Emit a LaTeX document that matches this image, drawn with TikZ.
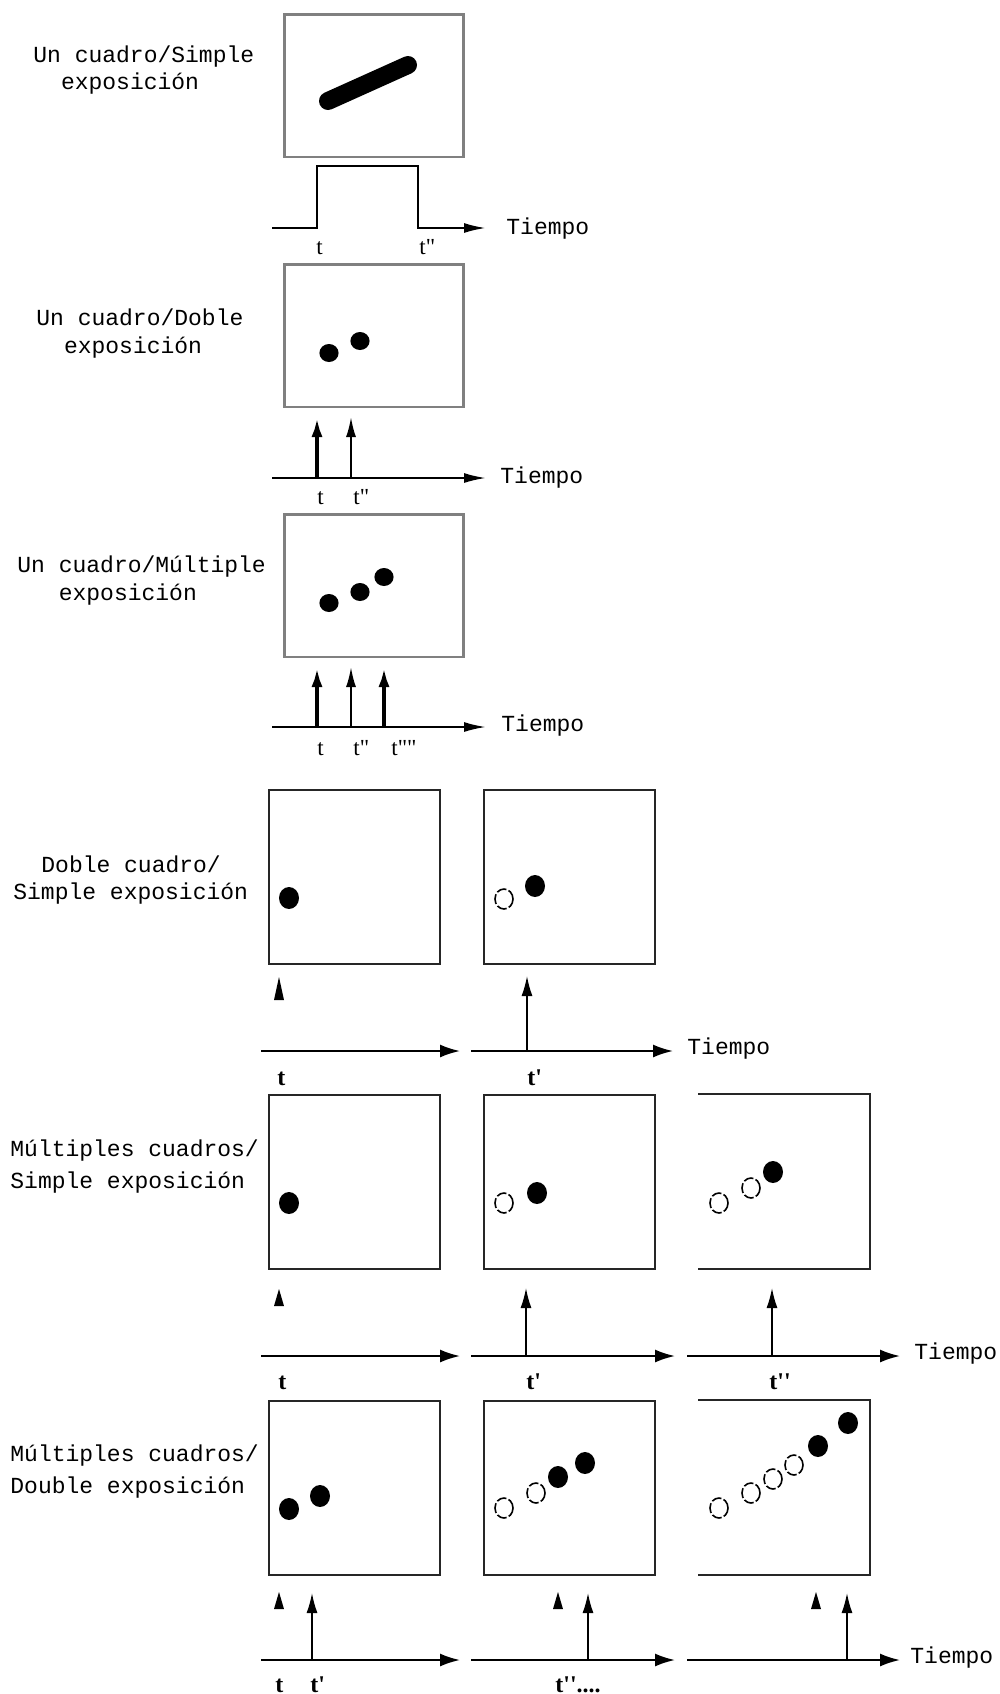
\documentclass[tikz,border=0pt]{standalone}
\usepackage{fontspec}
\setmainfont{Liberation Serif}
\newfontfamily\cour{Liberation Mono}
\usetikzlibrary{arrows.meta}
\newcommand\headat[3]{\fill[black] (#1-5,#3) -- (#1,#2) -- (#1+5,#3) -- cycle;}
\begin{document}
\begin{tikzpicture}[x=0.5pt,y=-0.5pt,
  lbl/.style={font=\cour\fontsize{11.5}{14}\selectfont, anchor=base west, inner sep=0},
  tiempo/.style={font=\cour\fontsize{11.5}{14}\selectfont, anchor=west, inner sep=0},
  tl/.style={font=\fontsize{11.5}{13}\selectfont, anchor=base west, inner sep=0},
  tb/.style={font=\bfseries\fontsize{12}{14}\selectfont, anchor=base west, inner sep=0},
  gbox/.style={draw=gray, line width=1.4pt, minimum width=89.5pt, minimum height=71.3pt, inner sep=0, anchor=north west},
  kbox/.style={draw=black!85, line width=1pt, minimum width=85.5pt, minimum height=87pt, inner sep=0, anchor=north west},
  obox/.style={minimum width=85.5pt, minimum height=87pt, inner sep=0, anchor=north west},
  oside/.style={draw=black!85, line width=1pt},
  pulse/.style={line width=1.1pt, -{Latex[length=11pt,width=5pt]}},
  harrow/.style={line width=1pt, -{Latex[length=11pt,width=5pt]}},
  hkarrow/.style={line width=1pt, -{Latex[length=10pt,width=6.5pt]}},
  vthick/.style={line width=2pt, -{Latex[length=10pt,width=5.5pt]}},
  vthin/.style={line width=1pt, -{Latex[length=10pt,width=5pt]}},
  vk/.style={line width=0.8pt, -{Latex[length=10pt,width=5.5pt]}},
  dotf/.style={fill=black},
  doth/.style={draw=black, line width=0.8pt, dash pattern=on 5pt off 1.2pt},
]
\useasboundingbox (0,0) rectangle (1000,1694);

% ---------------- Section 1 ----------------
\node[lbl] (l1a) at (33,62) {Un cuadro/Simple};
\node[lbl] (l1b) at (33,89) {\phantom{xx}exposición};
\node[gbox] (b1) at (283,13) {};
\draw[line width=9pt, line cap=round] (328,101) -- (408,65);
\coordinate (p0) at (272,228);
\coordinate (p1) at (317,228);
\coordinate (p2) at (317,166);
\coordinate (p3) at (418,166);
\coordinate (p4) at (418,228);
\coordinate (p5) at (486,228);
\draw[pulse] (p0) -- (p1) -- (p2) -- (p3) -- (p4) -- (p5);
\node[tiempo] (tm1) at (506,229) {Tiempo};
\node[tl] (t1a) at (316,254) {t};
\node[tl] (t1b) at (419,254) {t\textquotedbl};

% ---------------- Section 2 ----------------
\node[lbl] (l2a) at (36,325) {Un cuadro/Doble};
\node[lbl] (l2b) at (36,353) {\phantom{xx}exposición};
\node[gbox] (b2) at (283,263) {};
\fill[dotf] (329,353) ellipse [x radius=4.8pt, y radius=4.5pt];
\fill[dotf] (360,341) ellipse [x radius=4.8pt, y radius=4.5pt];
\coordinate (s2a) at (272,478);
\coordinate (s2b) at (486,478);
\draw[harrow] (s2a) -- (s2b);
\coordinate (a2a) at (317,478); \coordinate (a2at) at (317,417);
\coordinate (a2b) at (351,478); \coordinate (a2bt) at (351,417);
\draw[vthick] (a2a) -- (a2at);
\draw[vthin] (a2b) -- (a2bt);
\node[tiempo] (tm2) at (500,478) {Tiempo};
\node[tl] (t2a) at (317,504) {t};
\node[tl] (t2b) at (353,504) {t\textquotedbl};

% ---------------- Section 3 ----------------
\node[lbl] (l3a) at (17,572) {Un cuadro/Múltiple};
\node[lbl] (l3b) at (17,600) {\phantom{xxx}exposición};
\node[gbox] (b3) at (283,513) {};
\fill[dotf] (329,603) ellipse [x radius=4.8pt, y radius=4.5pt];
\fill[dotf] (360,592) ellipse [x radius=4.8pt, y radius=4.5pt];
\fill[dotf] (384,577) ellipse [x radius=4.8pt, y radius=4.5pt];
\coordinate (s3a) at (272,727);
\coordinate (s3b) at (486,727);
\draw[harrow] (s3a) -- (s3b);
\coordinate (a3a) at (317,727); \coordinate (a3at) at (317,667);
\coordinate (a3b) at (351,727); \coordinate (a3bt) at (351,667);
\coordinate (a3c) at (384,727); \coordinate (a3ct) at (384,667);
\draw[vthick] (a3a) -- (a3at);
\draw[vthin] (a3b) -- (a3bt);
\draw[vthick] (a3c) -- (a3ct);
\node[tiempo] (tm3) at (501,726) {Tiempo};
\node[tl] (t3a) at (317,755) {t};
\node[tl] (t3b) at (353,755) {t\textquotedbl};
\node[tl] (t3c) at (391,755) {t\textquotedbl\textquotedbl};

% ---------------- Section 4 ----------------
\node[lbl] (l4a) at (41,872) {Doble cuadro/};
\node[lbl] (l4b) at (13,899) {Simple exposición};
\node[kbox] (b41) at (268,789) {};
\node[kbox] (b42) at (483,789) {};
\fill[dotf] (289,898) ellipse [x radius=5pt, y radius=5.5pt];
\draw[doth] (504,899) ellipse [x radius=4.5pt, y radius=5pt];
\fill[dotf] (535,886) ellipse [x radius=5pt, y radius=5.5pt];
\headat{279}{977}{1000}
\coordinate (a4b) at (527,1051); \coordinate (a4bt) at (527,976);
\draw[vk] (a4b) -- (a4bt);
\coordinate (s41a) at (261,1051); \coordinate (s41b) at (460,1051);
\coordinate (s42a) at (471,1051); \coordinate (s42b) at (673,1051);
\draw[hkarrow] (s41a) -- (s41b);
\draw[hkarrow] (s42a) -- (s42b);
\node[tiempo] (tm4) at (687,1049) {Tiempo};
\node[tb] (t4a) at (277,1085) {t};
\node[tb] (t4b) at (527,1085) {t\textquotesingle};

% ---------------- Section 5 ----------------
\node[lbl] (l5a) at (10,1156) {Múltiples cuadros/};
\node[lbl] (l5b) at (10,1188) {Simple exposición};
\node[kbox] (b51) at (268,1094) {};
\node[kbox] (b52) at (483,1094) {};
\node[obox] (b53) at (698,1094) {};
\draw[oside] (b53.north west) -- (b53.north east) -- (b53.south east) -- (b53.south west);
\fill[dotf] (289,1203) ellipse [x radius=5pt, y radius=5.5pt];
\draw[doth] (504,1203) ellipse [x radius=4.5pt, y radius=5pt];
\fill[dotf] (537,1193) ellipse [x radius=5pt, y radius=5.5pt];
\draw[doth] (719,1203) ellipse [x radius=4.5pt, y radius=5pt];
\draw[doth] (751,1188) ellipse [x radius=4.5pt, y radius=5pt];
\fill[dotf] (773,1172) ellipse [x radius=5pt, y radius=5.5pt];
\headat{279}{1289}{1306}
\coordinate (a5b) at (526,1356); \coordinate (a5bt) at (526,1288);
\coordinate (a5c) at (772,1356); \coordinate (a5ct) at (772,1288);
\draw[vk] (a5b) -- (a5bt);
\draw[vk] (a5c) -- (a5ct);
\coordinate (s51a) at (261,1356); \coordinate (s51b) at (460,1356);
\coordinate (s52a) at (471,1356); \coordinate (s52b) at (675,1356);
\coordinate (s53a) at (687,1356); \coordinate (s53b) at (900,1356);
\draw[hkarrow] (s51a) -- (s51b);
\draw[hkarrow] (s52a) -- (s52b);
\draw[hkarrow] (s53a) -- (s53b);
\node[tiempo] (tm5) at (914,1354) {Tiempo};
\node[tb] (t5a) at (278,1389) {t};
\node[tb] (t5b) at (526,1389) {t\textquotesingle};
\node[tb] (t5c) at (769,1389) {t\textquotesingle\textquotesingle};

% ---------------- Section 6 ----------------
\node[lbl] (l6a) at (10,1461) {Múltiples cuadros/};
\node[lbl] (l6b) at (10,1493) {Double exposición};
\node[kbox] (b61) at (268,1400) {};
\node[kbox] (b62) at (483,1400) {};
\node[obox] (b63) at (698,1400) {};
\draw[oside] (b63.north west) -- (b63.north east) -- (b63.south east) -- (b63.south west);
\fill[dotf] (289,1509) ellipse [x radius=5pt, y radius=5.5pt];
\fill[dotf] (320,1496) ellipse [x radius=5pt, y radius=5.5pt];
\draw[doth] (504,1508) ellipse [x radius=4.5pt, y radius=5pt];
\draw[doth] (536,1493) ellipse [x radius=4.5pt, y radius=5pt];
\fill[dotf] (558,1477) ellipse [x radius=5pt, y radius=5.5pt];
\fill[dotf] (585,1463) ellipse [x radius=5pt, y radius=5.5pt];
\draw[doth] (719,1508) ellipse [x radius=4.5pt, y radius=5pt];
\draw[doth] (751,1493) ellipse [x radius=4.5pt, y radius=5pt];
\draw[doth] (773,1479) ellipse [x radius=4.5pt, y radius=5pt];
\draw[doth] (794,1465) ellipse [x radius=4.5pt, y radius=5pt];
\fill[dotf] (818,1446) ellipse [x radius=5pt, y radius=5.5pt];
\fill[dotf] (848,1423) ellipse [x radius=5pt, y radius=5.5pt];
\headat{279}{1592}{1609}
\headat{558}{1592}{1609}
\headat{816}{1592}{1609}
\coordinate (a6a) at (312,1660); \coordinate (a6at) at (312,1593);
\coordinate (a6b) at (588,1660); \coordinate (a6bt) at (588,1593);
\coordinate (a6c) at (847,1660); \coordinate (a6ct) at (847,1593);
\draw[vk] (a6a) -- (a6at);
\draw[vk] (a6b) -- (a6bt);
\draw[vk] (a6c) -- (a6ct);
\coordinate (s61a) at (261,1660); \coordinate (s61b) at (460,1660);
\coordinate (s62a) at (471,1660); \coordinate (s62b) at (675,1660);
\coordinate (s63a) at (687,1660); \coordinate (s63b) at (900,1660);
\draw[hkarrow] (s61a) -- (s61b);
\draw[hkarrow] (s62a) -- (s62b);
\draw[hkarrow] (s63a) -- (s63b);
\node[tiempo] (tm6) at (910,1658) {Tiempo};
\node[tb] (t6a) at (275,1692) {t};
\node[tb] (t6b) at (310,1692) {t\textquotesingle};
\node[tb] (t6c) at (555,1692) {t\textquotesingle\textquotesingle....};
\end{tikzpicture}
\end{document}
